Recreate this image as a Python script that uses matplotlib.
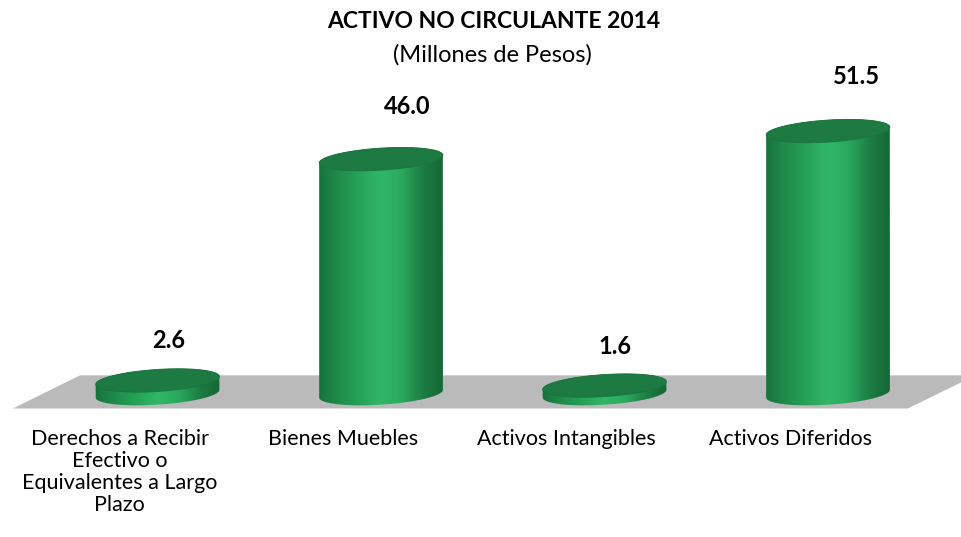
import numpy as np
import matplotlib.pyplot as plt
from matplotlib.path import Path
from matplotlib.patches import PathPatch, Polygon
from matplotlib.colors import LinearSegmentedColormap

categories = ['Derechos a Recibir\nEfectivo o\nEquivalentes a Largo\nPlazo',
              'Bienes Muebles', 'Activos Intangibles', 'Activos Diferidos']
values = [2.6, 46.0, 1.6, 51.5]
value_labels = ['2.6', '46.0', '1.6', '51.5']

plt.rcParams['font.family'] = ['Lato', 'DejaVu Sans']

fig = plt.figure(figsize=(9.61, 5.37), dpi=100)
ax = fig.add_axes([0, 0, 1, 1])
XLIM, YLIM = (-0.705, 3.595), (-28.1, 77.2)
ax.set_xlim(*XLIM)
ax.set_ylim(*YLIM)
ax.axis('off')

# pixels per data unit
p0 = ax.transData.transform((0, 0))
p1 = ax.transData.transform((1, 1))
sx, sy = p1 - p0

# cylinder geometry (pixels)
A, B, TILT = 62, 11, np.deg2rad(3.7)


def ellipse(cx, cy, t):
    ex = A * np.cos(t) * np.cos(TILT) - B * np.sin(t) * np.sin(TILT)
    ey = A * np.cos(t) * np.sin(TILT) + B * np.sin(t) * np.cos(TILT)
    return np.column_stack([cx + ex / sx, cy + ey / sy])


# gray floor
floor = Polygon([(-0.647, -2.9), (-0.347, 3.6), (3.66, 3.6), (3.357, -2.9)],
                closed=True, facecolor='#bababa', edgecolor='none', zorder=1)
ax.add_patch(floor)

body_cmap = LinearSegmentedColormap.from_list(
    'body', ['#17703b', '#1f8c4a', '#27a358', '#30b767', '#2aa85d', '#1c7c42', '#156636'])

for i, v in enumerate(values):
    bottom = ellipse(i, 0, np.linspace(np.pi, 2 * np.pi, 80))
    top_front = ellipse(i, v, np.linspace(0, np.pi, 80))
    pts = np.vstack([bottom, top_front, bottom[:1]])
    body = PathPatch(Path(pts), facecolor='none', edgecolor='none', zorder=2)
    ax.add_patch(body)
    grad = np.linspace(0, 1, 256).reshape(1, -1)
    im = ax.imshow(grad, cmap=body_cmap, aspect='auto', zorder=2,
                   extent=[i - (A + 2) / sx, i + (A + 2) / sx, -20, v + 20])
    im.set_clip_path(body)

    top = ellipse(i, v, np.linspace(0, 2 * np.pi, 120))
    ax.add_patch(Polygon(top, closed=True, facecolor='#1e7a43',
                         edgecolor='#1b723e', linewidth=0.6, zorder=3))

    # value label
    ax.text(i + (10 + 0.35 * v) / sx, 7.6 + 1.06 * v, value_labels[i],
            ha='center', va='center', fontsize=17, fontweight='bold', zorder=4)

    # category label
    ax.text(i - 38 / sx, -6.9, categories[i], ha='center', va='top',
            fontsize=15.5, linespacing=1.12, zorder=4)

ax.set_xlim(*XLIM)
ax.set_ylim(*YLIM)

fig.text(494 / 961, 1 - 22 / 537, 'ACTIVO NO CIRCULANTE 2014', ha='center', va='center',
         fontsize=16.5, fontweight='bold')
fig.text(492 / 961, 1 - 55 / 537, '(Millones de Pesos)', ha='center', va='center',
         fontsize=17)

fig.savefig('out.png', dpi=100, facecolor='white')
